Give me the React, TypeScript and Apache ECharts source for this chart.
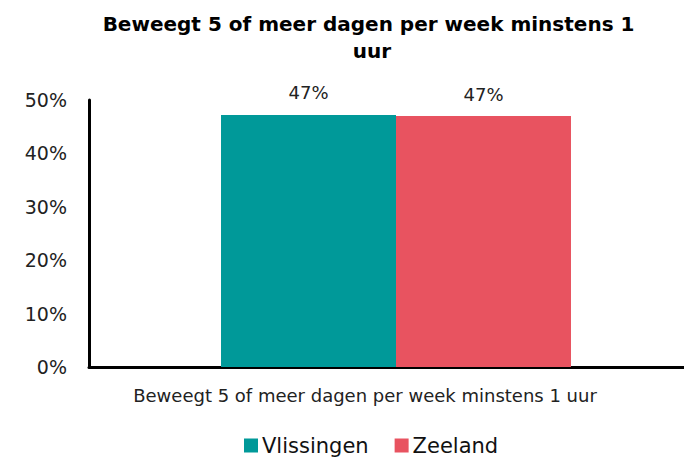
import React, { useEffect, useRef } from "react";
import * as echarts from "echarts";

const categories = ["Beweegt 5 of meer dagen per week minstens 1 uur"];
const vlissingen = [47.2];
const zeeland = [47.0];
const yTicks = [0, 10, 20, 30, 40, 50];

const FONT = "'DejaVu Sans', sans-serif";

export default function App() {
  const ref = useRef<HTMLDivElement>(null);
  useEffect(() => {
    document.body.style.margin = "0";
    if (!ref.current) return;
    const chart = echarts.init(ref.current, undefined, { renderer: "svg" });
    chart.setOption({
      animation: false,
      title: {
        text: "Beweegt 5 of meer dagen per week minstens 1 uur",
        left: 367,
        textAlign: "center",
        top: 5,
        textStyle: {
          fontFamily: FONT,
          fontWeight: "bold",
          fontSize: 20,
          color: "#000",
          width: 560,
          overflow: "break",
          lineHeight: 27,
        },
      },
      legend: {
        top: 430,
        left: 239,
        itemWidth: 14,
        itemHeight: 14,
        itemGap: 26,
        icon: "rect",
        textStyle: { fontFamily: FONT, fontSize: 21, color: "#111", padding: [0, 0, 0, -1] },
        data: ["Vlissingen", "Zeeland"],
      },
      grid: {
        left: 89,
        width: 614,
        top: 100,
        bottom: 90,
        containLabel: false,
        outerBoundsMode: "none",
      },
      xAxis: {
        type: "category",
        data: categories,
        axisLine: { lineStyle: { color: "#000", width: 3 } },
        axisTick: { show: false },
        axisLabel: {
          fontFamily: FONT,
          fontSize: 18,
          color: "#222",
          margin: 19,
          padding: [0, 62, 0, 0],
        },
      },
      yAxis: {
        type: "value",
        min: 0,
        max: yTicks[yTicks.length - 1],
        interval: 10,
        axisLine: { show: true, lineStyle: { color: "#000", width: 3 } },
        axisTick: { show: false },
        splitLine: { show: false },
        axisLabel: {
          fontFamily: FONT,
          fontSize: 19,
          color: "#222",
          margin: 22,
          formatter: "{value}%",
        },
      },
      series: [
        {
          name: "Vlissingen",
          type: "bar",
          data: vlissingen,
          barGap: "0%",
          barCategoryGap: "43%",
          itemStyle: { color: "#009999" },
          label: {
            show: true,
            position: "top",
            distance: 13,
            fontFamily: FONT,
            fontSize: 18,
            color: "#222",
            formatter: (p: any) => Math.round(p.value) + "%",
          },
        },
        {
          name: "Zeeland",
          type: "bar",
          data: zeeland,
          itemStyle: { color: "#E85360" },
          label: {
            show: true,
            position: "top",
            distance: 13,
            fontFamily: FONT,
            fontSize: 18,
            color: "#222",
            formatter: (p: any) => Math.round(p.value) + "%",
          },
        },
      ],
    });
    return () => chart.dispose();
  }, []);
  return <div ref={ref} style={{ width: 684, height: 457 }} />;
}
